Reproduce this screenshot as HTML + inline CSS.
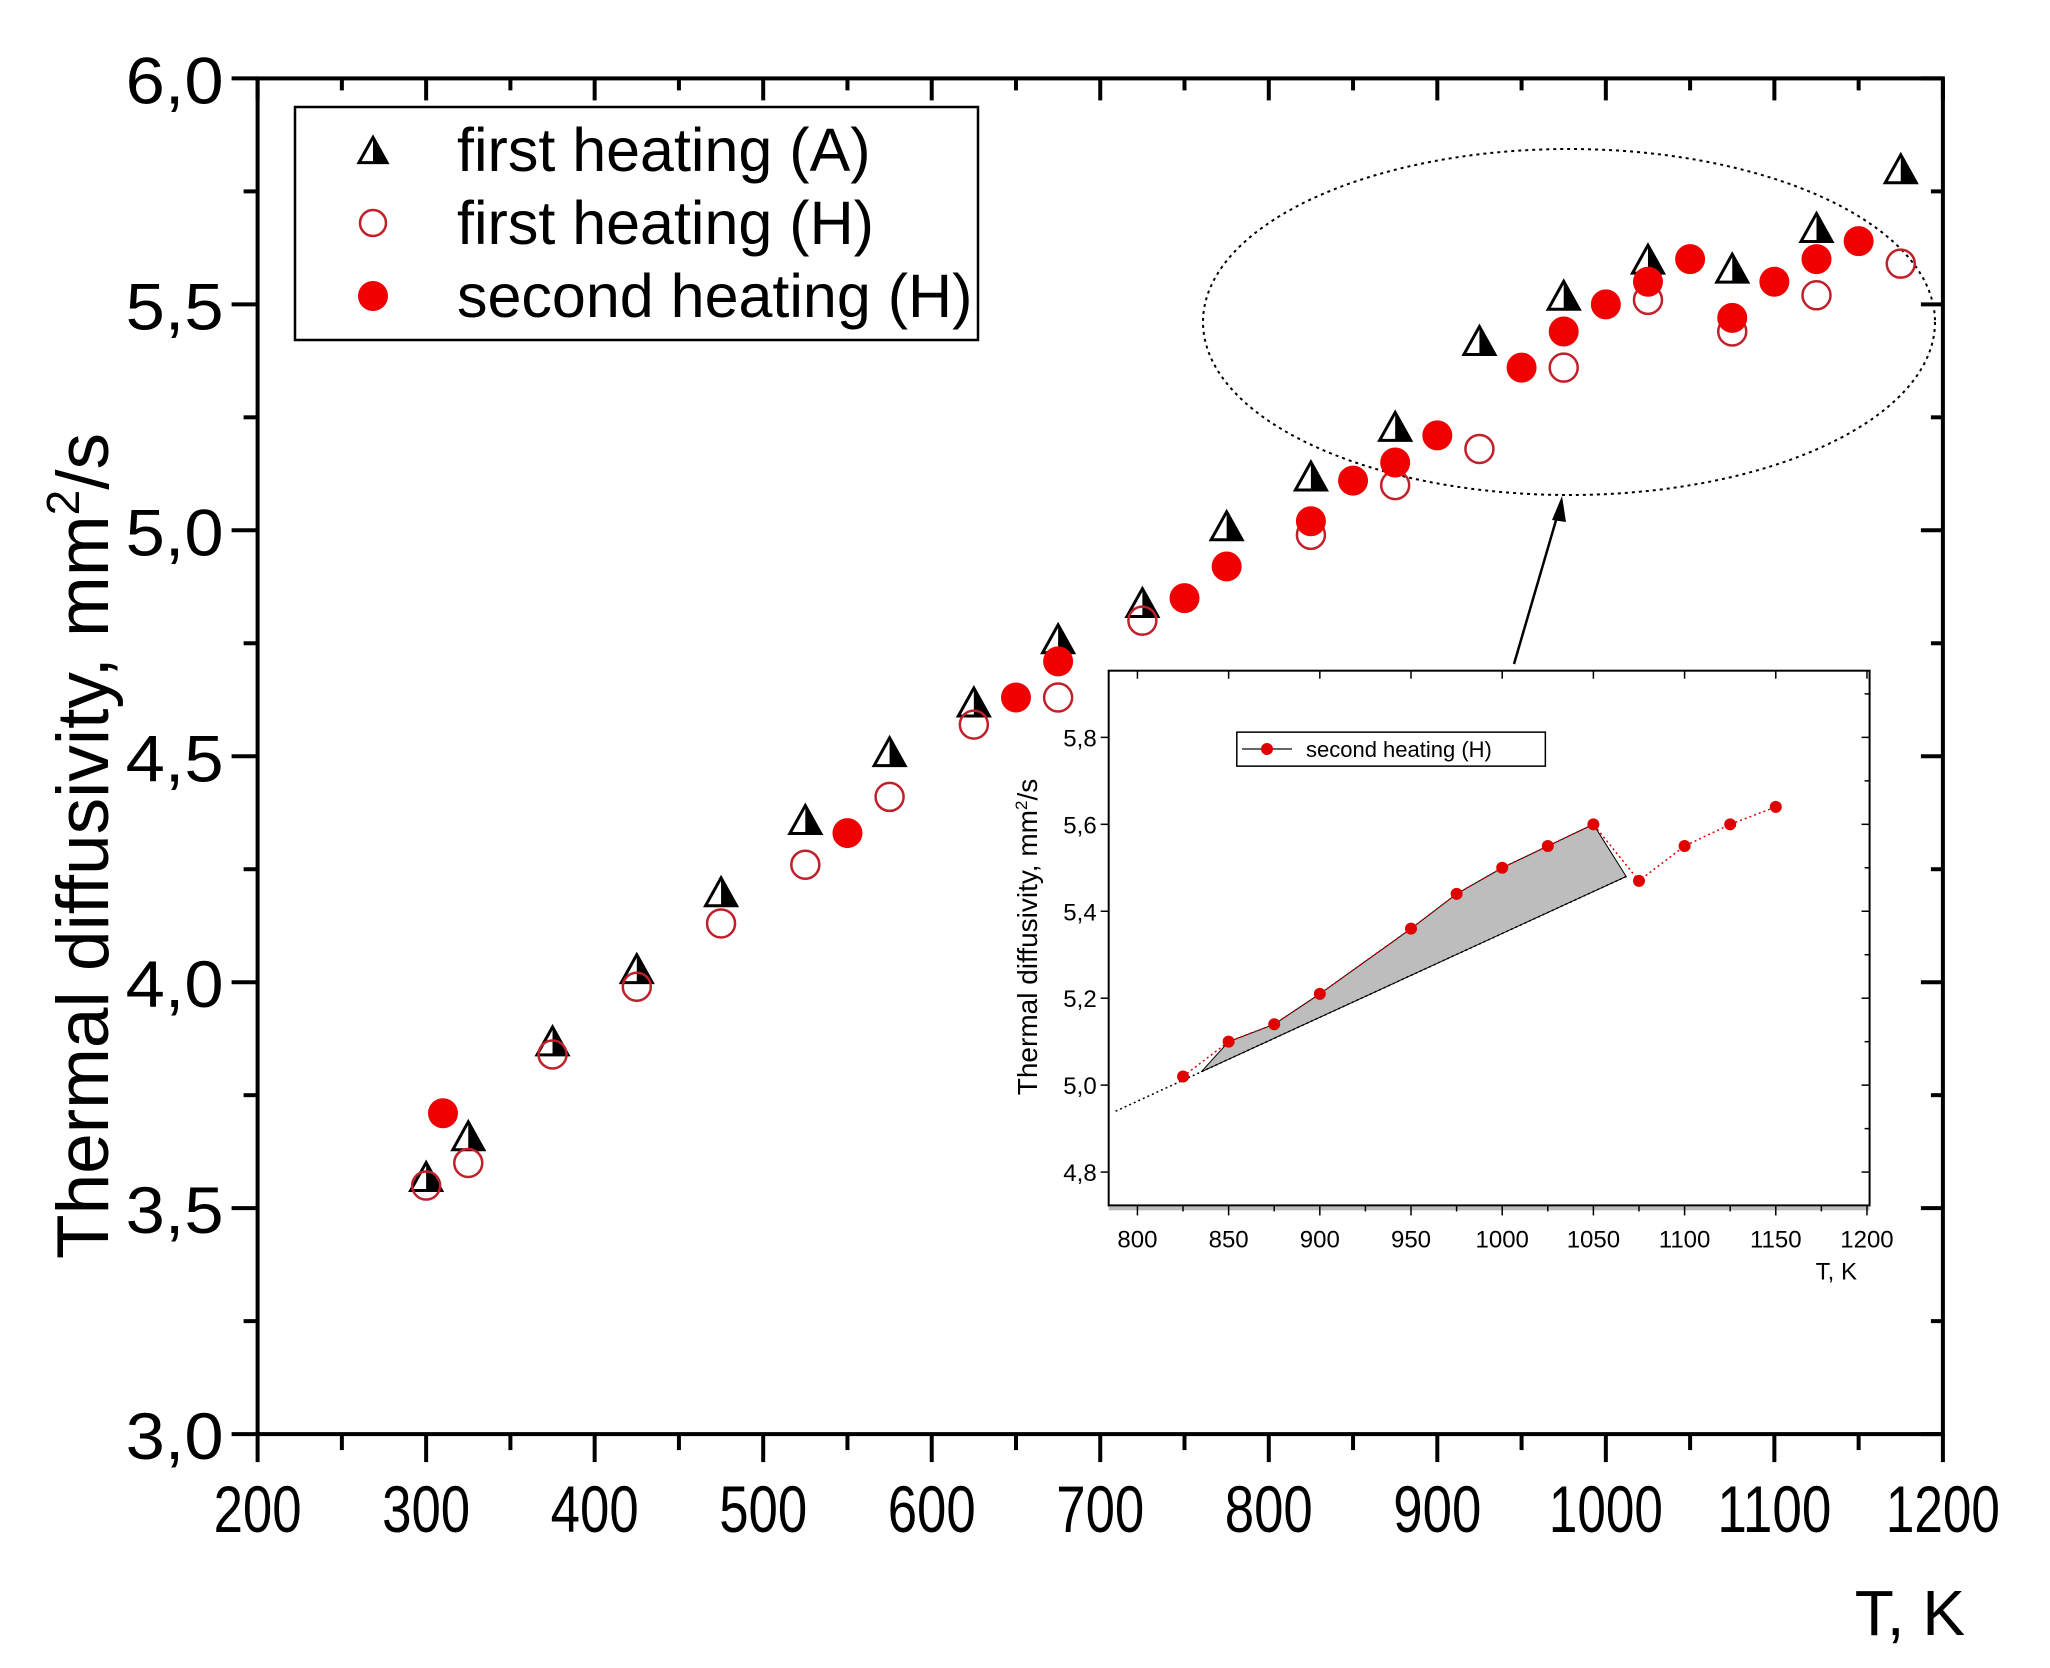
<!DOCTYPE html>
<html><head><meta charset="utf-8"><style>
html,body{margin:0;padding:0;background:#fff;}
svg{display:block;font-family:"Liberation Sans",Arial,sans-serif;}
</style></head><body>
<svg id="chart" width="2050" height="1668" viewBox="0 0 2050 1668" xmlns="http://www.w3.org/2000/svg">
<g id="main-layer"></g>
<g id="inset-layer"></g>
</svg>
<script>
// Main chart data
const tempsA = [300,325,375,425,475,525,575,625,675,725,775,825,875,925,975,1025,1075,1125,1175];
const valsA  = [3.57,3.66,3.87,4.03,4.20,4.36,4.51,4.62,4.76,4.84,5.01,5.12,5.23,5.42,5.52,5.60,5.58,5.67,5.80];
const tempsH1 = [300,325,375,425,475,525,575,625,675,725,825,875,925,975,1025,1075,1125,1175];
const valsH1  = [3.55,3.60,3.84,3.99,4.13,4.26,4.41,4.57,4.63,4.80,4.99,5.10,5.18,5.36,5.51,5.44,5.52,5.59];
const tempsH2 = [310,550,650,675,750,775,825,850,875,900,950,975,1000,1025,1050,1075,1100,1125,1150];
const valsH2  = [3.71,4.33,4.63,4.71,4.85,4.92,5.02,5.11,5.15,5.21,5.36,5.44,5.50,5.55,5.60,5.47,5.55,5.60,5.64];
const xTicks = [200,300,400,500,600,700,800,900,1000,1100,1200];
const yTicks = [3.0,3.5,4.0,4.5,5.0,5.5,6.0];
const yTickLabels = ["3,0","3,5","4,0","4,5","5,0","5,5","6,0"];
// Inset data
const insetT = [825,850,875,900,950,975,1000,1025,1050,1075,1100,1125,1150];
const insetV = [5.02,5.10,5.14,5.21,5.36,5.44,5.50,5.55,5.60,5.47,5.55,5.60,5.64];
const insetXTicks = [800,850,900,950,1000,1050,1100,1150,1200];
const insetYTicks = [4.8,5.0,5.2,5.4,5.6,5.8];
const insetYLabels = ["4,8","5,0","5,2","5,4","5,6","5,8"];

const NS="http://www.w3.org/2000/svg";
function mk(parent,tag,attrs,text){const e=document.createElementNS(NS,tag);for(const k in attrs)e.setAttribute(k,attrs[k]);if(text!==undefined)e.textContent=text;parent.appendChild(e);return e;}
const X=v=>257.6+(v-200)*1.6853;
const Y=v=>78.4+(6-v)*451.9;
const IX=v=>(870+(v-800)*1.395)*1.3074;
const IY=v=>(564+(5.8-v)*332.5)*1.3074;

const M=document.getElementById('main-layer');
let frame=mk(M,'rect',{x:X(200),y:Y(6),width:X(1200)-X(200),height:Y(3)-Y(6),fill:'none',stroke:'#000','stroke-width':4});


for(let i=0;i<xTicks.length;i++){
  const v=xTicks[i];
  let t=mk(M,'line',{x1:X(v),x2:X(v),y1:Y(3),y2:Y(3)+28,stroke:'#000','stroke-width':4});
  
  
  mk(M,'line',{x1:X(v),x2:X(v),y1:Y(6),y2:Y(6)+22,stroke:'#000','stroke-width':4});
  if(i<xTicks.length-1){
    mk(M,'line',{x1:X(v+50),x2:X(v+50),y1:Y(3),y2:Y(3)+16,stroke:'#000','stroke-width':4});
    mk(M,'line',{x1:X(v+50),x2:X(v+50),y1:Y(6),y2:Y(6)+12,stroke:'#000','stroke-width':4});
  }
  let l=mk(M,'text',{x:X(v),y:1532,'font-size':66,'text-anchor':'middle',fill:'#000',textLength:v>=1000?114:88,lengthAdjust:'spacingAndGlyphs'},String(v));
  
  
}
for(let i=0;i<yTicks.length;i++){
  const v=yTicks[i];
  let t=mk(M,'line',{x1:X(200)-26,x2:X(200),y1:Y(v),y2:Y(v),stroke:'#000','stroke-width':4});
  
  
  mk(M,'line',{x1:X(1200)-22,x2:X(1200),y1:Y(v),y2:Y(v),stroke:'#000','stroke-width':4});
  if(i<yTicks.length-1){
    mk(M,'line',{x1:X(200)-14,x2:X(200),y1:Y(v+0.25),y2:Y(v+0.25),stroke:'#000','stroke-width':4});
    mk(M,'line',{x1:X(1200)-12,x2:X(1200),y1:Y(v+0.25),y2:Y(v+0.25),stroke:'#000','stroke-width':4});
  }
  let l=mk(M,'text',{x:X(200)-34,y:Y(v)+25,'font-size':66,'text-anchor':'end',fill:'#000',textLength:98,lengthAdjust:'spacingAndGlyphs'},yTickLabels[i]);
  
  
}
let xt=mk(M,'text',{x:1965,y:1635,'font-size':64,'text-anchor':'end',fill:'#000'},'T, K');


let yt=mk(M,'text',{x:0,y:0,'font-size':73,'text-anchor':'middle',fill:'#000',transform:'translate(108,846) rotate(-90)'});


yt.appendChild(document.createTextNode('Thermal diffusivity, mm'));
mk(yt,'tspan',{'font-size':46,dy:-29},'2');
mk(yt,'tspan',{dy:29},'/s');

let el=mk(M,'ellipse',{cx:1569,cy:322,rx:366,ry:173,fill:'none',stroke:'#000','stroke-width':2,'stroke-dasharray':'3,4'});


let ar=mk(M,'line',{x1:1514,y1:664,x2:1559,y2:510,stroke:'#000','stroke-width':2.5});


mk(M,'polygon',{points:'1562,496 1552,520 1566,522',fill:'#000'});

function triangle(g,cx,cy,s){
  const h=s*0.9;
  mk(g,'polygon',{points:`${cx-s/2},${cy+h/2} ${cx},${cy-h/2} ${cx+s/2},${cy+h/2}`,fill:'#fff',stroke:'#000','stroke-width':3});
  mk(g,'polygon',{points:`${cx},${cy+h/2} ${cx},${cy-h/2} ${cx+s/2},${cy+h/2}`,fill:'#000'});
}
for(let i=0;i<tempsA.length;i++){
  let g=mk(M,'g',{});
  
  
  triangle(g,X(tempsA[i]),Y(valsA[i]),31);
}
for(let i=0;i<tempsH1.length;i++){
  let c=mk(M,'circle',{cx:X(tempsH1[i]),cy:Y(valsH1[i]),r:14,fill:'none',stroke:'#c0202a','stroke-width':2.5});
  
  
}
for(let i=0;i<tempsH2.length;i++){
  let c=mk(M,'circle',{cx:X(tempsH2[i]),cy:Y(valsH2[i]),r:15,fill:'#f00000'});
  
  
}
let lg=mk(M,'g',{});


mk(lg,'rect',{x:295,y:107,width:683,height:233,fill:'#fff',stroke:'#000','stroke-width':2.5});
const legNames=['first heating (A)','first heating (H)','second heating (H)'];
for(let i=0;i<3;i++){
  const cy=150+i*73;
  let e=mk(lg,'g',{});
  
  
  if(i===0) triangle(e,373,cy,28);
  else if(i===1) mk(e,'circle',{cx:373,cy:cy,r:13,fill:'none',stroke:'#c0202a','stroke-width':2.5});
  else mk(e,'circle',{cx:373,cy:cy,r:15,fill:'#f00000'});
  mk(e,'text',{x:457,y:cy+21,'font-size':61,fill:'#000'},legNames[i]);
}

const I=document.getElementById('inset-layer');
const ix0=848*1.3074, ix1=1430*1.3074, iy0=513*1.3074, iy1=922*1.3074;
let ib=mk(I,'rect',{x:ix0,y:iy0,width:ix1-ix0,height:iy1-iy0,fill:'#fff',stroke:'#000','stroke-width':2});


mk(I,'line',{x1:ix0,x2:ix1,y1:iy1+3,y2:iy1+3,stroke:'#bbb','stroke-width':4});
for(let i=0;i<insetXTicks.length;i++){
  const v=insetXTicks[i];
  mk(I,'line',{x1:IX(v),x2:IX(v),y1:iy1,y2:iy1+10,stroke:'#000','stroke-width':1.5});
  mk(I,'line',{x1:IX(v),x2:IX(v),y1:iy0,y2:iy0+8,stroke:'#000','stroke-width':1.5});
  if(v<1200) mk(I,'line',{x1:IX(v+25),x2:IX(v+25),y1:iy1,y2:iy1+6,stroke:'#000','stroke-width':1.5});
  let l=mk(I,'text',{x:IX(v),y:iy1+42,'font-size':24,'text-anchor':'middle',fill:'#000'},String(v));
  
  
}
for(let i=0;i<insetYTicks.length;i++){
  const v=insetYTicks[i];
  mk(I,'line',{x1:ix0-8,x2:ix0,y1:IY(v),y2:IY(v),stroke:'#000','stroke-width':1.5});
  mk(I,'line',{x1:ix1-8,x2:ix1,y1:IY(v),y2:IY(v),stroke:'#000','stroke-width':1.5});
  mk(I,'line',{x1:ix1-5,x2:ix1,y1:IY(v+0.1),y2:IY(v+0.1),stroke:'#000','stroke-width':1.5});
  let l=mk(I,'text',{x:ix0-12,y:IY(v)+9,'font-size':24,'text-anchor':'end',fill:'#000'},insetYLabels[i]);
  
  
}
let ixt=mk(I,'text',{x:IX(1200)-10,y:iy1+74,'font-size':24,'text-anchor':'end',fill:'#000'},'T, K');


let iyt=mk(I,'text',{x:0,y:0,'font-size':28,'text-anchor':'middle',fill:'#000',transform:`translate(1037,937) rotate(-90)`});


iyt.appendChild(document.createTextNode('Thermal diffusivity, mm'));
mk(iyt,'tspan',{'font-size':17,dy:-10},'2');
mk(iyt,'tspan',{dy:10},'/s');
const lowA=[788,4.94], lowB=[1068,5.48];
const lowAt=t=>lowA[1]+(t-lowA[0])*(lowB[1]-lowA[1])/(lowB[0]-lowA[0]);
let pts=[[835,lowAt(835)]];
for(let i=0;i<insetT.length;i++){ if(insetT[i]>=850&&insetT[i]<=1050) pts.push([insetT[i],insetV[i]]); }
pts.push(lowB);
let sh=mk(I,'polygon',{points:pts.map(p=>IX(p[0])+','+IY(p[1])).join(' '),fill:'#bdbdbd',stroke:'#000','stroke-width':1});


let bl=mk(I,'line',{x1:IX(lowA[0]),y1:IY(lowA[1]),x2:IX(lowB[0]),y2:IY(lowB[1]),stroke:'#000','stroke-width':1.5,'stroke-dasharray':'2,3'});


let ln=mk(I,'polyline',{points:insetT.map((t,i)=>IX(t)+','+IY(insetV[i])).join(' '),fill:'none',stroke:'#d00','stroke-width':1.5,'stroke-dasharray':'2,3'});


for(let i=0;i<insetT.length;i++){
  let c=mk(I,'circle',{cx:IX(insetT[i]),cy:IY(insetV[i]),r:6,fill:'#e00000'});
  
  
}
let ilg=mk(I,'g',{});


mk(ilg,'rect',{x:946*1.3074,y:560*1.3074,width:236*1.3074,height:26*1.3074,fill:'#fff',stroke:'#000','stroke-width':1.5});
mk(ilg,'line',{x1:1242,x2:1292,y1:749,y2:749,stroke:'#333','stroke-width':1.5});
mk(ilg,'circle',{cx:1267,cy:749,r:6,fill:'#e00000'});
mk(ilg,'text',{x:1306,y:757,'font-size':22,fill:'#000'},'second heating (H)');
</script>
</body></html>
